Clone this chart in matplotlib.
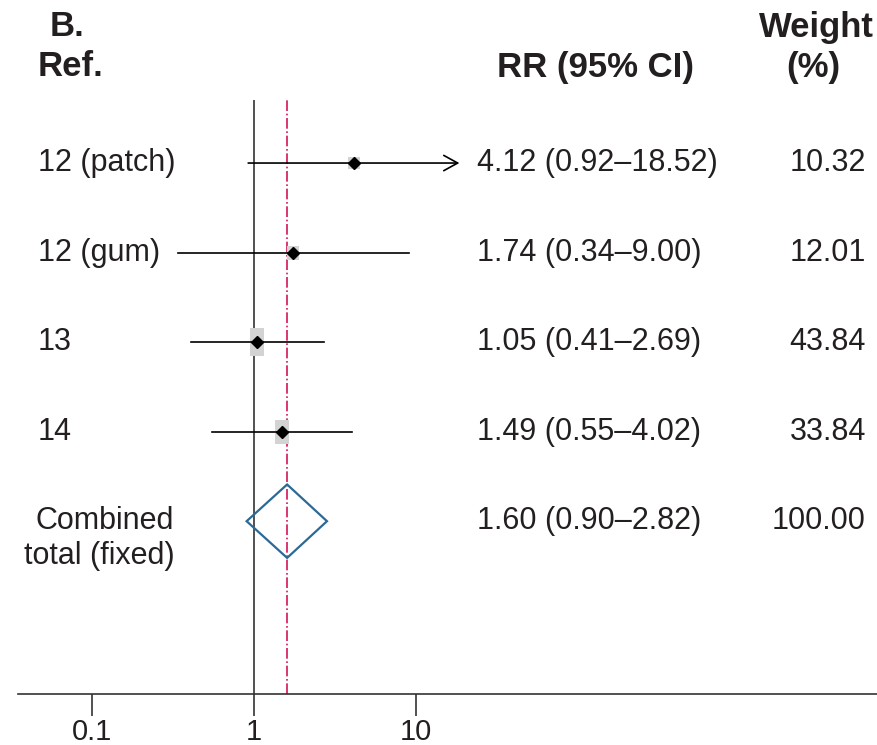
import numpy as np
import matplotlib.pyplot as plt
from matplotlib.transforms import blended_transform_factory

plt.rcParams['font.family'] = ['Liberation Sans', 'DejaVu Sans']

# study data
studies = ["12 (patch)", "12 (gum)", "13", "14"]
rr = [4.12, 1.74, 1.05, 1.49]
ci_lo = [0.92, 0.34, 0.41, 0.55]
ci_hi = [18.52, 9.00, 2.69, 4.02]
weights = [10.32, 12.01, 43.84, 33.84]
arrow_right = [True, False, False, False]

combined_rr = 1.60
combined_lo = 0.90
combined_hi = 2.82
combined_weight = 100.00
combined_label = ["Combined", "total (fixed)"]

xticks = [0.1, 1, 10]
xtick_labels = ["0.1", "1", "10"]

TXT = "#231f20"
LINE = "#333333"
RED = "#d4145a"
BLUE = "#2b6a96"
BOX = "#d3d3d3"

fig = plt.figure(figsize=(8.78, 7.45), dpi=100)
W, H = 878, 745
ax = fig.add_axes([18 / W, (H - 694) / H, 1 - 18 / W, (694 - 100) / H])
ax.set_xscale("log")
ax.set_xlim(0.0349, 7110)
ax.set_ylim(5.93, -0.704)

for s in ("top", "right", "left"):
    ax.spines[s].set_visible(False)
ax.spines["bottom"].set_color(LINE)
ax.spines["bottom"].set_linewidth(1.2)
ax.set_yticks([])
ax.set_xticks(xticks)
ax.set_xticklabels(xtick_labels)
ax.minorticks_off()
ax.tick_params(axis="x", direction="out", length=16, width=1.2, color=LINE,
               labelsize=21, labelcolor=TXT, pad=1)

# reference lines
ax.axvline(1, color=LINE, lw=1.2, zorder=1)
ax.axvline(combined_rr, color=RED, lw=1.2, ls="-.", zorder=1)

px = 72 / 100  # points per pixel
for i in range(len(studies)):
    # confidence interval
    if arrow_right[i]:
        ax.annotate("", xy=(ci_hi[i], i), xytext=(ci_lo[i], i),
                    arrowprops=dict(arrowstyle="->,head_length=1.0,head_width=0.55",
                                    lw=1.2, color="black", shrinkA=0, shrinkB=0),
                    zorder=3)
    else:
        ax.plot([ci_lo[i], ci_hi[i]], [i, i], color="black", lw=1.2, zorder=3)
    # weight box
    bh = (8 + 0.45 * weights[i])
    bw = (10 + 0.1 * weights[i])
    verts = [(-bw / 2, -bh / 2), (bw / 2, -bh / 2), (bw / 2, bh / 2), (-bw / 2, bh / 2), (-bw / 2, -bh / 2)]
    ax.plot(rr[i], i, marker=verts, markersize=max(bw, bh) * px, color=BOX,
            markeredgewidth=0, zorder=2)
    ax.plot(rr[i], i, marker="D", markersize=6.5, color="black", zorder=4)

# combined diamond
ci = len(studies)
half_h = 0.41
ax.fill([combined_lo, combined_rr, combined_hi, combined_rr, combined_lo],
        [ci, ci - half_h, ci, ci + half_h, ci],
        facecolor="none", edgecolor=BLUE, lw=1.6, zorder=3)

# text columns
tr = blended_transform_factory(fig.transFigure, ax.transData)
fs = 22
for i, name in enumerate(studies):
    ax.text(38 / W, i, name, transform=tr, ha="left", va="center", fontsize=fs, color=TXT)
    ax.text(477 / W, i, f"{rr[i]:.2f} ({ci_lo[i]:.2f}\u2013{ci_hi[i]:.2f})", transform=tr,
            ha="left", va="center", fontsize=fs, color=TXT)
    ax.text(866 / W, i, f"{weights[i]:.2f}", transform=tr, ha="right", va="center",
            fontsize=fs, color=TXT)

ax.text(105 / W, ci, combined_label[0], transform=tr, ha="center", va="center",
        fontsize=fs, color=TXT)
ax.text(99 / W, ci + 0.39, combined_label[1], transform=tr, ha="center", va="center",
        fontsize=fs, color=TXT)
ax.text(477 / W, ci, f"{combined_rr:.2f} ({combined_lo:.2f}\u2013{combined_hi:.2f})",
        transform=tr, ha="left", va="center", fontsize=fs, color=TXT)
ax.text(866 / W, ci, f"{combined_weight:.2f}", transform=tr, ha="right", va="center",
        fontsize=fs, color=TXT)

# headers
hfs = 25
fig.text(50 / W, 1 - 26 / H, "B.", ha="left", va="center", fontsize=hfs,
         fontweight="bold", color=TXT)
fig.text(38 / W, 1 - 67 / H, "Ref.", ha="left", va="center", fontsize=hfs,
         fontweight="bold", color=TXT)
fig.text(497 / W, 1 - 67 / H, "RR (95% CI)", ha="left", va="center", fontsize=hfs,
         fontweight="bold", color=TXT)
fig.text(816 / W, 1 - 27 / H, "Weight", ha="center", va="center", fontsize=hfs,
         fontweight="bold", color=TXT)
fig.text(813 / W, 1 - 67 / H, "(%)", ha="center", va="center", fontsize=hfs,
         fontweight="bold", color=TXT)

fig.savefig("out.png", dpi=100, facecolor="white")
